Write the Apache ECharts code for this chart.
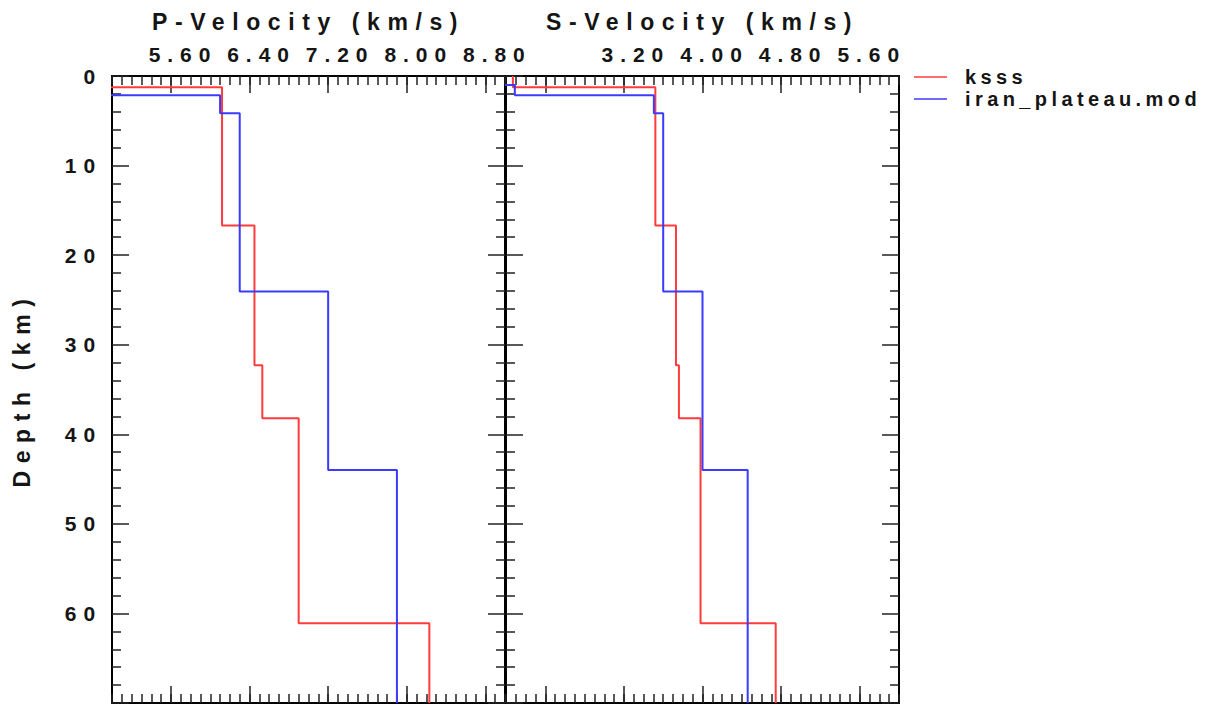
<!DOCTYPE html>
<html>
<head>
<meta charset="utf-8">
<title>Velocity models</title>
<script src="https://cdn.jsdelivr.net/npm/echarts@6/dist/echarts.min.js"></script>
<style>
  html, body { margin: 0; padding: 0; background: #fff; }
  #chart { width: 1218px; height: 706px; }
  #chart text { letter-spacing: 0.33em; }
  /* legend text is the only 20px text, it is spaced less */
  #chart text[style*="20px"] { letter-spacing: 0.22em; }
</style>
</head>
<body>
<div id="chart"></div>
<script>
// layer boundaries (km) and layer velocities (km/s)
const ksssDepth = [0, 1.25, 16.7, 32.3, 38.2, 61.1, 70]
const ksssVp = [3.6, 6.12, 6.45, 6.53, 6.9, 8.23]
const ksssVs = [2.07, 3.52, 3.73, 3.76, 3.98, 4.745]

const iranDepth = [0, 1.0, 2.15, 4.16, 24.05, 44.0, 70]
const iranVp = [3.0, 3.6, 6.1, 6.3, 7.2, 7.9]
const iranVs = [1.7, 2.09, 3.505, 3.6, 4.0, 4.46]

// tick labels
const pMajorTicks = [5.6, 6.4, 7.2, 8.0, 8.8]
const pLabels = [5.6, 6.4, 7.2, 8.0, 8.8]
const sMajorTicks = [2.4, 3.2, 4.0, 4.8, 5.6]
const sLabels = [3.2, 4.0, 4.8, 5.6]

const FONT = '"Liberation Sans", Arial, Helvetica, sans-serif'
const INK = '#151515'

const toSteps = (depths, vel) => {
  const pts = []
  vel.forEach((v, i) => {
    pts.push([v, depths[i]], [v, depths[i + 1]])
  })
  return pts
}

const lineAxis = { show: true, lineStyle: { color: '#000', width: 2 } }
const tickStyle = { color: '#222', width: 1.5 }

const xAxes = (grid, min, max, ticks, labels, name) => {
  const base = { gridIndex: grid, type: 'value', min, max, splitLine: { show: false } }
  return [
    {
      ...base,
      position: 'top',
      axisLine: lineAxis,
      axisTick: { inside: true, length: 17, customValues: ticks, lineStyle: tickStyle },
      axisLabel: {
        customValues: labels,
        formatter: (v) => v.toFixed(2),
        margin: 11,
        padding: [0, 0, 0, 24],
        color: INK,
        fontFamily: FONT,
        fontWeight: 'bold',
        fontSize: 21
      },
      name,
      nameLocation: 'middle',
      nameGap: 43,
      nameTextStyle: { color: INK, fontFamily: FONT, fontWeight: 'bold', fontSize: 23 }
    },
    {
      ...base,
      position: 'top',
      interval: 0.1,
      axisLine: { show: false },
      axisTick: { inside: true, length: 9, lineStyle: tickStyle },
      axisLabel: { show: false }
    },
    {
      ...base,
      position: 'bottom',
      axisLine: lineAxis,
      axisTick: { inside: true, length: 17, customValues: ticks, lineStyle: tickStyle },
      axisLabel: { show: false }
    },
    {
      ...base,
      position: 'bottom',
      interval: 0.1,
      axisLine: { show: false },
      axisTick: { inside: true, length: 9, lineStyle: tickStyle },
      axisLabel: { show: false }
    }
  ]
}

const yAxes = (grid, withLabels) => {
  const base = {
    gridIndex: grid,
    type: 'value',
    inverse: true,
    min: 0,
    max: 70,
    interval: 10,
    axisLine: lineAxis,
    axisTick: { inside: true, length: 17, lineStyle: tickStyle },
    minorTick: { show: true, splitNumber: 5, length: 9, lineStyle: tickStyle },
    splitLine: { show: false }
  }
  return [
    {
      ...base,
      position: 'left',
      axisLabel: {
        show: withLabels,
        showMaxLabel: false,
        margin: 10,
        color: INK,
        fontFamily: FONT,
        fontWeight: 'bold',
        fontSize: 21
      },
      name: withLabels ? 'Depth (km)' : '',
      nameLocation: 'middle',
      nameGap: 79,
      nameTextStyle: { color: INK, fontFamily: FONT, fontWeight: 'bold', fontSize: 23 }
    },
    { ...base, position: 'right', axisLabel: { show: false } }
  ]
}

const chart = echarts.init(document.getElementById('chart'), null, { renderer: 'svg' })

const stepSeries = (name, color, x, y, data) => ({
  name,
  type: 'line',
  xAxisIndex: x,
  yAxisIndex: y,
  symbol: 'none',
  clip: true,
  lineStyle: { color, width: 2 },
  itemStyle: { color },
  data
})

chart.setOption({
  animation: false,
  backgroundColor: '#fff',
  grid: [
    { left: 112, top: 76, width: 393, height: 627, outerBoundsMode: 'none' },
    { left: 506, top: 76, width: 393, height: 627, outerBoundsMode: 'none' }
  ],
  legend: {
    orient: 'vertical',
    left: 909,
    top: 62,
    icon: 'rect',
    itemWidth: 33,
    itemHeight: 2,
    itemGap: 2,
    itemStyle: { opacity: 0.75 },
    textStyle: { color: INK, fontFamily: FONT, fontWeight: 'bold', fontSize: 20, padding: [0, 0, 0, 13] },
    data: ['ksss', 'iran_plateau.mod']
  },
  xAxis: [
    ...xAxes(0, 5.0, 9.0, pMajorTicks, pLabels, 'P-Velocity (km/s)'),
    ...xAxes(1, 2.0, 6.0, sMajorTicks, sLabels, 'S-Velocity (km/s)')
  ],
  yAxis: [...yAxes(0, true), ...yAxes(1, false)],
  series: [
    stepSeries('ksss', '#ff3b3b', 0, 0, toSteps(ksssDepth, ksssVp)),
    stepSeries('iran_plateau.mod', '#3b3bff', 0, 0, toSteps(iranDepth, iranVp)),
    stepSeries('ksss', '#ff3b3b', 4, 2, toSteps(ksssDepth, ksssVs)),
    stepSeries('iran_plateau.mod', '#3b3bff', 4, 2, toSteps(iranDepth, iranVs))
  ]
})
</script>
</body>
</html>
